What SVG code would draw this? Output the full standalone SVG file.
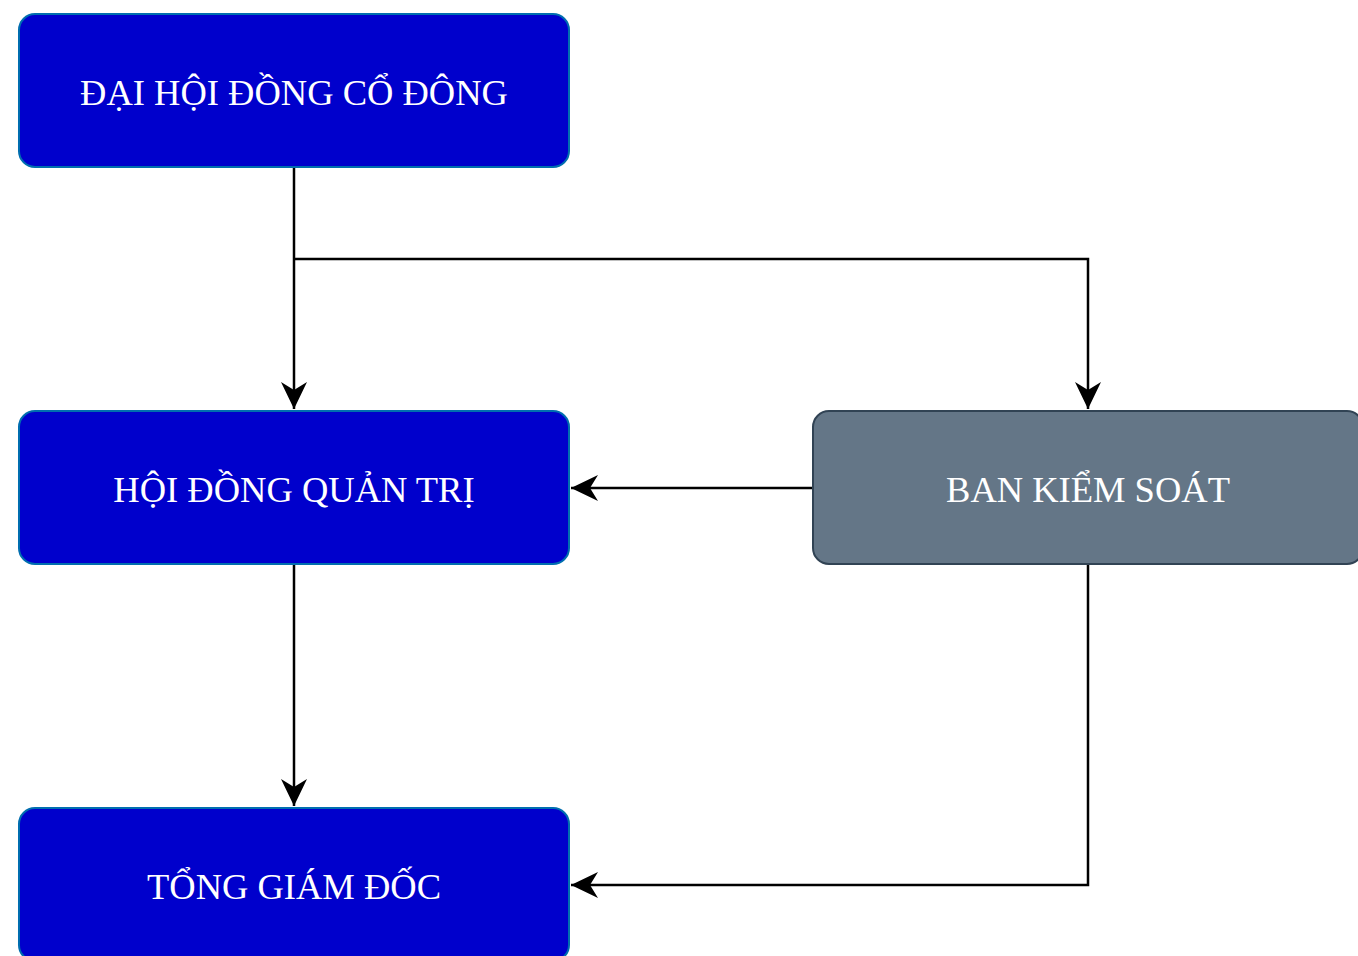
<svg xmlns="http://www.w3.org/2000/svg" width="1358" height="956" viewBox="0 0 1358 956">
<style>
.blue{fill:#0000CC;stroke:#006EAF;stroke-width:2}
.gray{fill:#647687;stroke:#314354;stroke-width:2}
.lbl{font-family:"Liberation Serif","Times New Roman",serif;font-size:36.5px;fill:#ffffff;text-anchor:middle}
.edge{fill:none;stroke:#000000;stroke-width:2.5}
</style>
<defs>
<marker id="arr" markerUnits="userSpaceOnUse" markerWidth="30" markerHeight="30" viewBox="-28 -15 30 30" refX="0" refY="0" orient="auto">
<path d="M0,0 L-27,-13 L-19,0 L-27,13 Z" fill="#000000"/>
</marker>
</defs>
<rect width="1358" height="956" fill="#ffffff"/>
<g id="connectors">
<path class="edge" d="M294,167 L294,409" marker-end="url(#arr)"/>
<path class="edge" d="M294,259 L1088,259 L1088,409" marker-end="url(#arr)"/>
<path class="edge" d="M813,488 L571,488" marker-end="url(#arr)"/>
<path class="edge" d="M294,564 L294,806" marker-end="url(#arr)"/>
<path class="edge" d="M1088,564 L1088,885 L571,885" marker-end="url(#arr)"/>
</g>
<g id="dhdcd">
<rect class="blue" x="19" y="14" width="550" height="153" rx="16"/>
<text class="lbl" x="294" y="105">ĐẠI HỘI ĐỒNG CỔ ĐÔNG</text>
</g>
<g id="hdqt">
<rect class="blue" x="19" y="411" width="550" height="153" rx="16"/>
<text class="lbl" x="294" y="502">HỘI ĐỒNG QUẢN TRỊ</text>
</g>
<g id="bks">
<rect class="gray" x="813" y="411" width="550" height="153" rx="16"/>
<text class="lbl" x="1088" y="502">BAN KIỂM SOÁT</text>
</g>
<g id="tgd">
<rect class="blue" x="19" y="808" width="550" height="153" rx="16"/>
<text class="lbl" x="294" y="899">TỔNG GIÁM ĐỐC</text>
</g>
</svg>
